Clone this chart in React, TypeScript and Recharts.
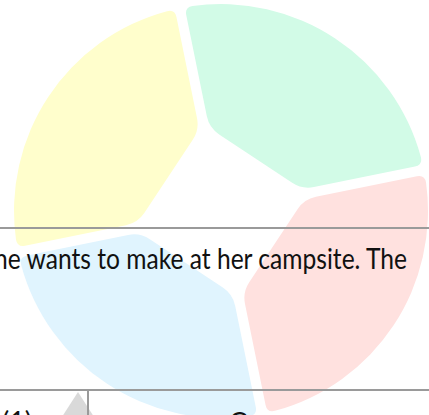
import React from 'react';
import { PieChart, Pie, Cell } from 'recharts';

// four equal slices (all ~90 degrees)
const slices = ['Yellow', 'Blue', 'Red', 'Green'];
const values = [25, 25, 25, 25];
const colors = ['#FFFECC', '#E0F4FE', '#FFE1DF', '#D2FBE7'];

// page text behind the chart
const lineText = 'he wants to make at her campsite. The';
const bottomLeftText = '(1)';
const bottomMidText = 'C';

const data = slices.map((name, i) => ({ name, value: values[i] }));

const RAD = Math.PI / 180;
const GAP = 5; // half the white gap between slices
const CORNER_OUT = 8;
const CORNER_IN = 12;

// slice with parallel gaps, a straight inner edge and rounded corners
const SlabShape = (props: any) => {
  const { cx, cy, innerRadius, outerRadius, startAngle, endAngle, fill } = props;
  const a0 = Math.min(startAngle, endAngle) * RAD;
  const a1 = Math.max(startAngle, endAngle) * RAD;
  const onEdge = (a: number, r: number, side: number) => [
    r * Math.cos(a) - side * GAP * Math.sin(a),
    r * Math.sin(a) + side * GAP * Math.cos(a),
  ];
  const scr = (p: number[]) => `${cx + p[0]},${cy - p[1]}`;
  const rO = Math.sqrt(outerRadius * outerRadius - GAP * GAP);
  const rI = Math.sqrt(innerRadius * innerRadius - GAP * GAP);

  const sIn = onEdge(a0, rI, 1);
  const sOut = onEdge(a0, rO, 1);
  const eOut = onEdge(a1, rO, -1);
  const eIn = onEdge(a1, rI, -1);

  const A = onEdge(a0, rO - CORNER_OUT, 1);
  const angS = Math.atan2(sOut[1], sOut[0]) + CORNER_OUT / outerRadius;
  const B = [outerRadius * Math.cos(angS), outerRadius * Math.sin(angS)];
  const angE = Math.atan2(eOut[1], eOut[0]) - CORNER_OUT / outerRadius;
  const C = [outerRadius * Math.cos(angE), outerRadius * Math.sin(angE)];
  const D = onEdge(a1, rO - CORNER_OUT, -1);
  const F = onEdge(a1, rI + CORNER_IN, -1);
  const len = Math.hypot(sIn[0] - eIn[0], sIn[1] - eIn[1]);
  const dx = (sIn[0] - eIn[0]) / len;
  const dy = (sIn[1] - eIn[1]) / len;
  const G = [eIn[0] + dx * CORNER_IN, eIn[1] + dy * CORNER_IN];
  const H = [sIn[0] - dx * CORNER_IN, sIn[1] - dy * CORNER_IN];
  const I = onEdge(a0, rI + CORNER_IN, 1);

  const d =
    `M${scr(I)} L${scr(A)} Q${scr(sOut)} ${scr(B)} ` +
    `A${outerRadius},${outerRadius} 0 0 0 ${scr(C)} ` +
    `Q${scr(eOut)} ${scr(D)} L${scr(F)} Q${scr(eIn)} ${scr(G)} ` +
    `L${scr(H)} Q${scr(sIn)} ${scr(I)} Z`;
  return <path d={d} fill={fill} stroke="none" />;
};

const App = () => {
  return (
    <div style={{ position: 'absolute', left: 0, top: 0, width: 429, height: 415, overflow: 'hidden', background: '#fff' }}>
      <PieChart width={429} height={415} margin={{ top: 0, right: 0, bottom: 0, left: 0 }}>
        <Pie
          data={data}
          dataKey="value"
          nameKey="name"
          cx={221}
          cy={211}
          innerRadius={84}
          outerRadius={207}
          startAngle={101.5}
          endAngle={461.5}
          stroke="none"
          shape={SlabShape}
          isAnimationActive={false}
        >
          {data.map((d, i) => (
            <Cell key={d.name} fill={colors[i]} />
          ))}
        </Pie>
      </PieChart>
      <svg
        width={429}
        height={415}
        style={{ position: 'absolute', left: 0, top: 0, pointerEvents: 'none' }}
      >
        <line x1={0} x2={429} y1={228} y2={228} stroke="#9a9a9a" strokeWidth={2} />
        <line x1={0} x2={429} y1={390} y2={390} stroke="#9a9a9a" strokeWidth={2} />
        <polygon points="78,392 60,420 96,420" fill="#d9d9d9" />
        <line x1={88} x2={88} y1={390} y2={415} stroke="#9a9a9a" strokeWidth={2} />
        <text
          x={-6}
          y={269}
          fontFamily="Lato, 'Open Sans', sans-serif"
          fontSize={28}
          fill="#111"
          textLength={413}
          lengthAdjust="spacingAndGlyphs"
        >
          {lineText}
        </text>
        <text x={2} y={431} fontFamily="Lato, sans-serif" fontSize={27} fill="#111">
          {bottomLeftText}
        </text>
        <text x={238} y={432} textAnchor="middle" fontFamily="Lato, sans-serif" fontSize={27} fill="#111">
          {bottomMidText}
        </text>
      </svg>
    </div>
  );
};

export default App;
